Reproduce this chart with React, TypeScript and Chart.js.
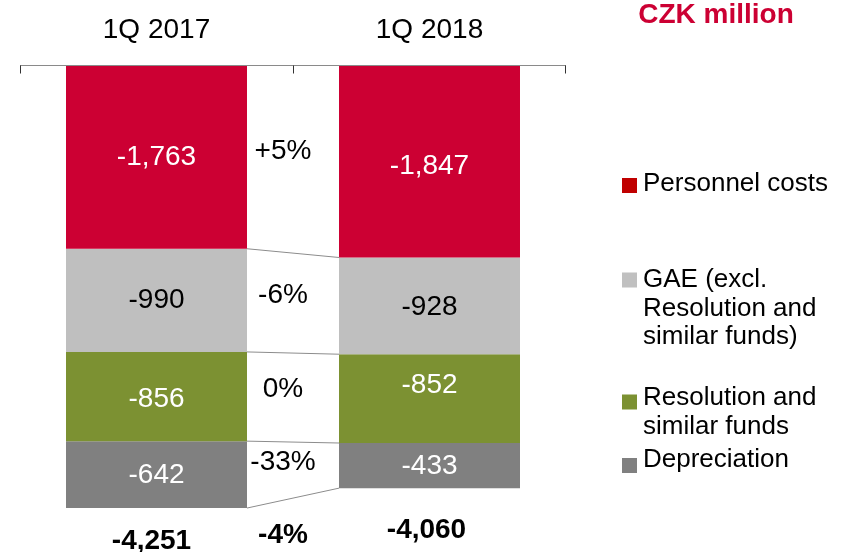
import React, { useEffect, useRef } from "react";
import { Chart, registerables } from "chart.js";

Chart.register(...registerables);

// ---------- data ----------
const categories = ["1Q 2017", "1Q 2018"];
const seriesNames = [
  "Personnel costs",
  "GAE (excl. Resolution and similar funds)",
  "Resolution and similar funds",
  "Depreciation",
];
const personnelCosts = [-1763, -1847];
const gaeCosts = [-990, -928];
const resolutionFunds = [-856, -852];
const depreciation = [-642, -433];
const changeLabels = ["+5%", "-6%", "0%", "-33%"];
const totalChangeLabel = "-4%";
const unitTitle = "CZK million";
const legendLines = [
  ["Personnel costs"],
  ["GAE (excl.", "Resolution and", "similar funds)"],
  ["Resolution and", "similar funds"],
  ["Depreciation"],
];
const yMin = -4500;
const yMax = 0;

// ---------- styles ----------
const FONT = '"Liberation Sans", Arial, Helvetica, sans-serif';
const barColors = ["#CC0033", "#BFBFBF", "#7C9132", "#808080"];
const legendColors = ["#C00000", "#C0C0C0", "#7C9132", "#808080"];
const labelColors = ["#FFFFFF", "#000000", "#FFFFFF", "#FFFFFF"];
const labelDy = [
  [0, 0, 3, 1],
  [5, 1, -13, 1],
];
const totalDx = [-5, -3];
const totalDy = [33.5, 42];
const legendX = 622;
const legendTextX = 643;
const legendSquare = 15;
const legendFirstLineY = [184, 280, 398, 460];
const legendSquareDy = [1.5, 0, 4, 5.5];
const legendLineHeight = 28.5;

const seriesValues = [personnelCosts, gaeCosts, resolutionFunds, depreciation];

const overlayPlugin = {
  id: "overlay",
  afterDatasetsDraw(chart: any) {
    const ctx = chart.ctx as CanvasRenderingContext2D;
    const area = chart.chartArea;
    const metas = seriesValues.map((_, i) => chart.getDatasetMeta(i));
    const props = (el: any) => el.getProps(["x", "y", "base", "width"], true);

    ctx.save();
    // connector lines
    ctx.strokeStyle = "#8C8C8C";
    ctx.lineWidth = 1;
    metas.forEach((meta: any) => {
      const a = props(meta.data[0]);
      const b = props(meta.data[1]);
      ctx.beginPath();
      ctx.moveTo(a.x + a.width / 2, a.y);
      ctx.lineTo(b.x - b.width / 2, b.y);
      ctx.stroke();
    });

    // axis line & tick marks
    const top = Math.round(area.top) + 0.5;
    ctx.strokeStyle = "#8A8A8A";
    ctx.beginPath();
    ctx.moveTo(area.left, top);
    ctx.lineTo(area.right, top);
    ctx.stroke();
    const xs = chart.scales.x;
    const c0 = xs.getPixelForValue(0);
    const c1 = xs.getPixelForValue(1);
    ctx.strokeStyle = "#333333";
    [area.left + 0.5, Math.round((c0 + c1) / 2) + 0.5, area.right - 0.5].forEach((tx) => {
      ctx.beginPath();
      ctx.moveTo(tx, top);
      ctx.lineTo(tx, top + 8);
      ctx.stroke();
    });

    // segment value labels
    ctx.font = `28px ${FONT}`;
    ctx.textAlign = "center";
    ctx.textBaseline = "middle";
    metas.forEach((meta: any, si: number) => {
      meta.data.forEach((el: any, ci: number) => {
        const p = props(el);
        ctx.fillStyle = labelColors[si];
        ctx.fillText(
          seriesValues[si][ci].toLocaleString("en-US"),
          p.x,
          (p.y + p.base) / 2 + labelDy[ci][si]
        );
      });
    });

    // change labels between bars
    ctx.fillStyle = "#000000";
    metas.forEach((meta: any, si: number) => {
      const a = props(meta.data[0]);
      const b = props(meta.data[1]);
      const mx = (a.x + a.width / 2 + b.x - b.width / 2) / 2 - 10;
      const my = ((a.y + a.base) / 2 + (b.y + b.base) / 2) / 2 - 8;
      ctx.fillText(changeLabels[si], mx, my);
    });

    // totals
    ctx.font = `bold 28px ${FONT}`;
    const last = metas[metas.length - 1];
    const bottoms: number[] = [];
    categories.forEach((_, ci) => {
      const p = props(last.data[ci]);
      bottoms.push(p.y);
      const total = seriesValues.reduce((s, arr) => s + arr[ci], 0);
      ctx.fillText(total.toLocaleString("en-US"), p.x + totalDx[ci], p.y + totalDy[ci]);
    });
    const a = props(last.data[0]);
    const b = props(last.data[1]);
    ctx.fillText(
      totalChangeLabel,
      (a.x + a.width / 2 + b.x - b.width / 2) / 2 - 10,
      (bottoms[0] + bottoms[1]) / 2 + 37
    );
    ctx.restore();
  },
  afterDraw(chart: any) {
    const ctx = chart.ctx as CanvasRenderingContext2D;
    ctx.save();
    // unit title
    ctx.font = `bold 28px ${FONT}`;
    ctx.fillStyle = "#CC0033";
    ctx.textAlign = "center";
    ctx.textBaseline = "middle";
    ctx.fillText(unitTitle, 716, 15);

    // legend
    ctx.font = `26px ${FONT}`;
    ctx.textAlign = "left";
    legendLines.forEach((lines, i) => {
      const y0 = legendFirstLineY[i];
      ctx.fillStyle = legendColors[i];
      ctx.fillRect(legendX, y0 + legendSquareDy[i] - legendSquare / 2, legendSquare, legendSquare);
      ctx.fillStyle = "#000000";
      lines.forEach((line, li) => {
        ctx.fillText(line, legendTextX, y0 + li * legendLineHeight);
      });
    });
    ctx.restore();
  },
};

export default function App() {
  const canvasRef = useRef<HTMLCanvasElement | null>(null);

  useEffect(() => {
    if (!canvasRef.current) return;
    const chart = new Chart(canvasRef.current, {
      type: "bar",
      data: {
        labels: categories,
        datasets: seriesValues.map((vals, i) => ({
          label: seriesNames[i],
          data: vals,
          backgroundColor: barColors[i],
          borderWidth: 0,
          barPercentage: 0.663,
          categoryPercentage: 1,
        })),
      },
      options: {
        responsive: false,
        animation: false,
        layout: { padding: { left: 20, right: 284, top: -4.6, bottom: 18 } },
        plugins: {
          legend: { display: false },
          tooltip: { enabled: false },
          title: { display: false },
        },
        scales: {
          x: {
            position: "top",
            stacked: true,
            grid: { display: false, drawTicks: false },
            border: { display: false },
            ticks: {
              color: "#000000",
              font: { family: FONT, size: 28 },
              padding: 18,
              maxRotation: 0,
            },
          },
          y: {
            stacked: true,
            display: false,
            min: yMin,
            max: yMax,
          },
        },
      },
      plugins: [overlayPlugin],
    });
    return () => chart.destroy();
  }, []);

  return (
    <div style={{ position: "fixed", left: 0, top: 0, width: 850, height: 552, background: "#fff" }}>
      <canvas ref={canvasRef} width={850} height={552} style={{ display: "block" }} />
    </div>
  );
}
